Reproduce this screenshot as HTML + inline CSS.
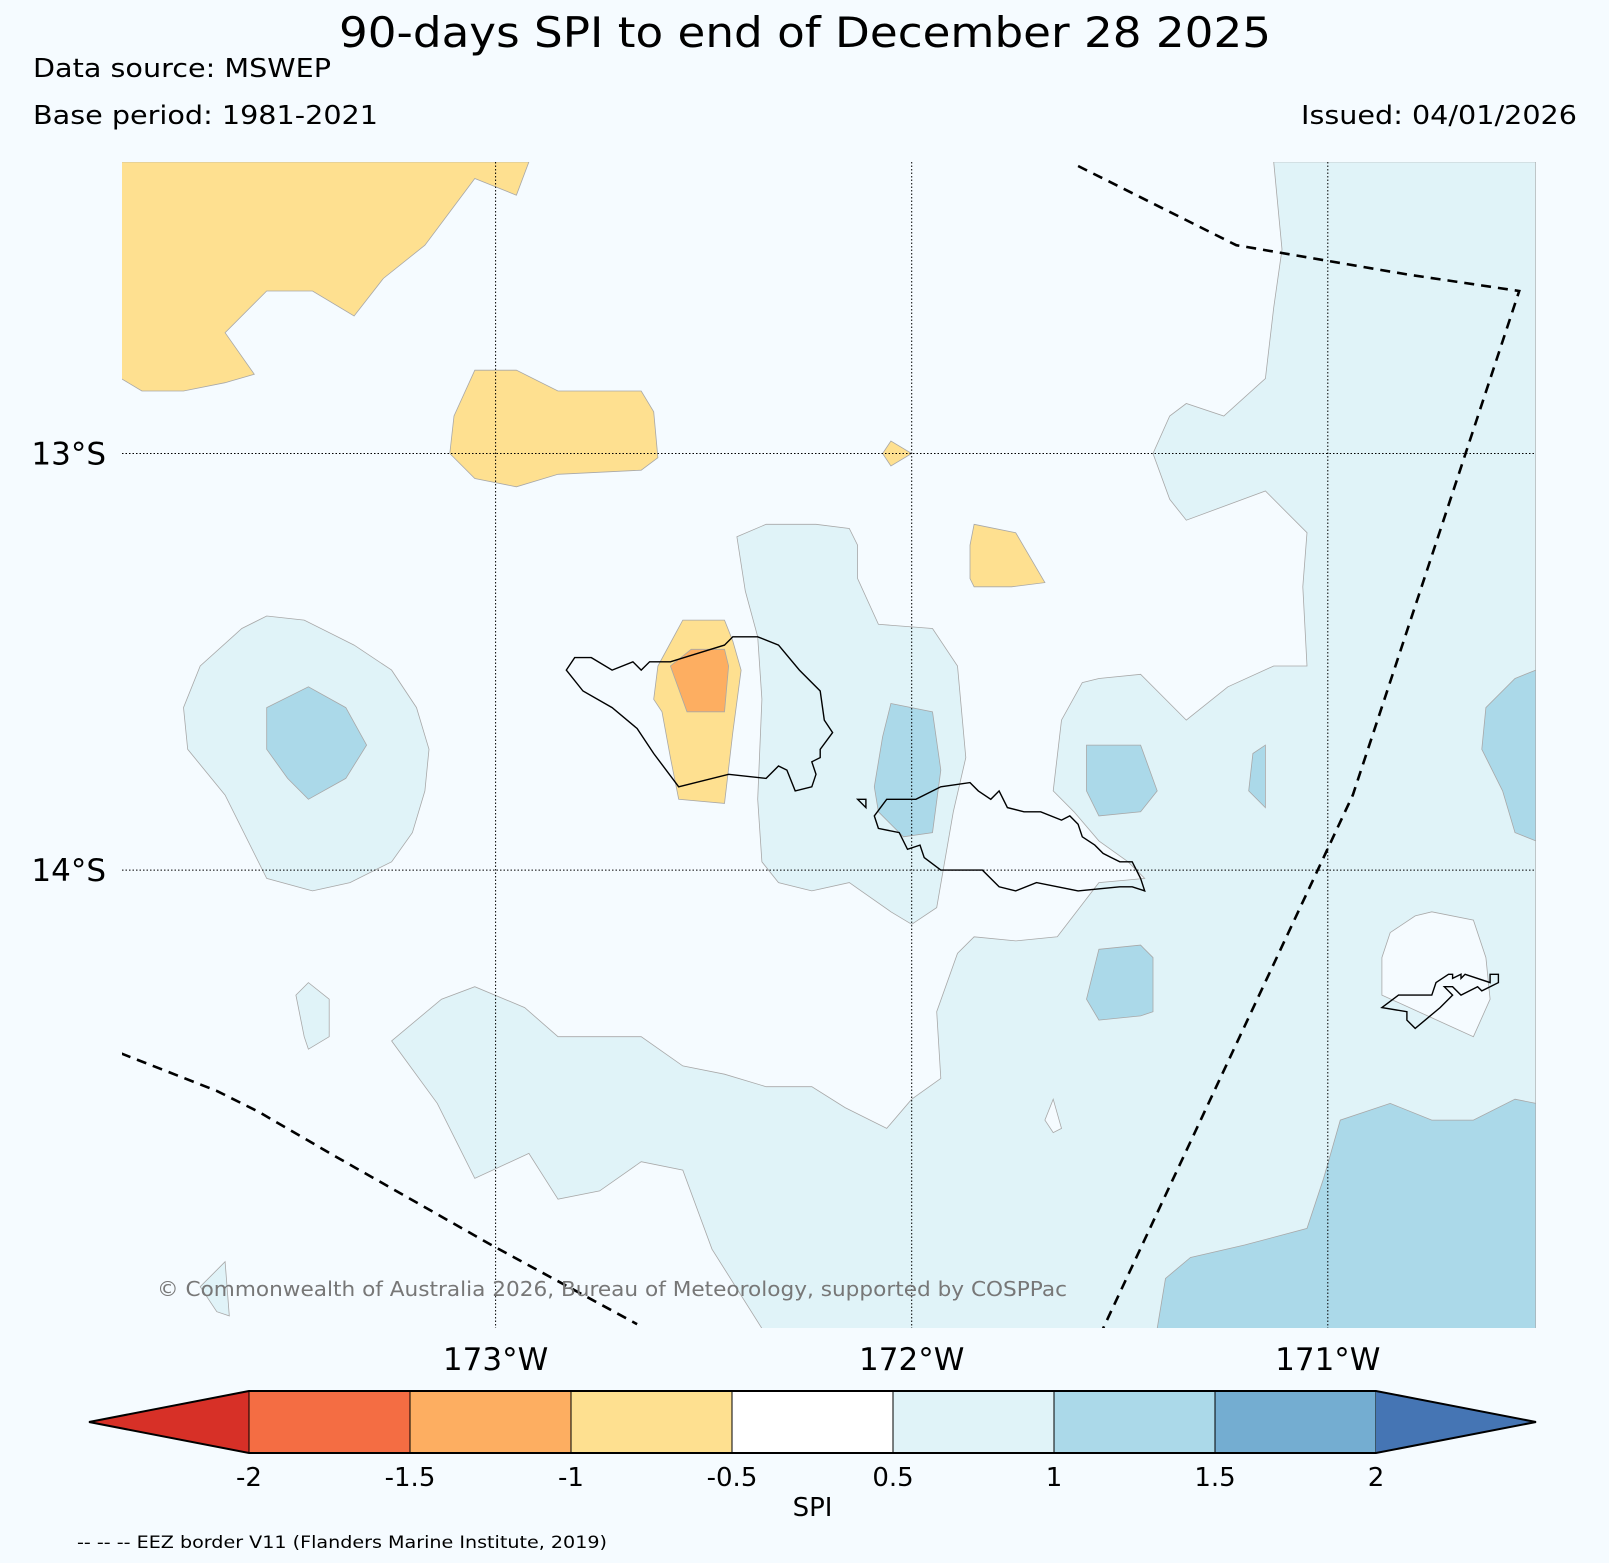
<!DOCTYPE html>
<html><head><meta charset="utf-8"><style>
html,body{margin:0;padding:0;background:#f5fbff;}
svg{display:block;font-family:"DejaVu Sans","Liberation Sans",sans-serif;}
</style></head><body>
<svg id="chart" width="1609" height="1563" viewBox="0 0 1609 1563" xmlns="http://www.w3.org/2000/svg">
<rect width="1609" height="1563" fill="#f5fbff"/>
<text x="805" y="47" font-size="42" text-anchor="middle" textLength="932" lengthAdjust="spacingAndGlyphs">90-days SPI to end of December 28 2025</text>
<text x="33" y="77" font-size="26" textLength="298" lengthAdjust="spacingAndGlyphs">Data source: MSWEP</text>
<text x="33" y="124" font-size="26" textLength="345" lengthAdjust="spacingAndGlyphs">Base period: 1981-2021</text>
<text x="1577" y="124" font-size="26" text-anchor="end" textLength="276" lengthAdjust="spacingAndGlyphs">Issued: 04/01/2026</text>
<defs><clipPath id="mapclip"><rect x="122" y="162" width="1414" height="1166"/></clipPath></defs>
<g id="map" clip-path="url(#mapclip)"></g>
<g id="axes"></g>
<text x="157" y="1296" font-size="20" fill="#777" textLength="910" lengthAdjust="spacingAndGlyphs">© Commonwealth of Australia 2026, Bureau of Meteorology, supported by COSPPac</text>
<g id="cbar"></g>
<text x="77" y="1548" font-size="17" textLength="530" lengthAdjust="spacingAndGlyphs">-- -- -- EEZ border V11 (Flanders Marine Institute, 2019)</text>
</svg>
<script>
const NS="http://www.w3.org/2000/svg";
const lonTicks=[-173,-172,-171];
const latTicks=[-13,-14];
const lonTickLabels=["173°W","172°W","171°W"];
const latTickLabels=["13°S","14°S"];
const cbarLevels=[-2,-1.5,-1,-0.5,0.5,1,1.5,2];
const cbarLabels=["-2","-1.5","-1","-0.5","0.5","1","1.5","2"];
const cbarColors=["#d73027","#f46d43","#fdae61","#fee090","#ffffff","#e0f3f8","#abd9e9","#74add1","#4575b4"];
const levelFill={"-1.5":"#fdae61","-1":"#fee090","0":"#f5fbff","1":"#e0f3f8","1.5":"#abd9e9"};
const lightEast=[[-171.13,-12.30],[-170.50,-12.30],[-170.50,-15.10],[-172.36,-15.10],[-172.48,-14.91],[-172.55,-14.72],[-172.65,-14.70],[-172.75,-14.77],[-172.85,-14.79],[-172.92,-14.68],[-173.05,-14.74],[-173.14,-14.56],[-173.25,-14.41],[-173.13,-14.31],[-173.05,-14.28],[-172.93,-14.33],[-172.85,-14.40],[-172.65,-14.40],[-172.55,-14.47],[-172.45,-14.49],[-172.35,-14.52],[-172.24,-14.52],[-172.16,-14.57],[-172.06,-14.62],[-172.00,-14.55],[-171.93,-14.50],[-171.94,-14.34],[-171.89,-14.20],[-171.85,-14.16],[-171.75,-14.17],[-171.65,-14.16],[-171.55,-14.03],[-171.44,-14.02],[-171.48,-13.98],[-171.55,-13.93],[-171.61,-13.86],[-171.66,-13.81],[-171.64,-13.64],[-171.59,-13.55],[-171.55,-13.54],[-171.45,-13.53],[-171.34,-13.64],[-171.24,-13.56],[-171.13,-13.51],[-171.05,-13.51],[-171.06,-13.32],[-171.05,-13.19],[-171.15,-13.09],[-171.34,-13.16],[-171.38,-13.11],[-171.42,-13.00],[-171.38,-12.91],[-171.34,-12.88],[-171.25,-12.91],[-171.15,-12.82],[-171.13,-12.65],[-171.11,-12.51]];
const lightWest=[[-173.55,-13.39],[-173.46,-13.40],[-173.34,-13.46],[-173.25,-13.52],[-173.19,-13.61],[-173.16,-13.71],[-173.17,-13.81],[-173.20,-13.91],[-173.25,-13.98],[-173.35,-14.03],[-173.44,-14.05],[-173.55,-14.02],[-173.65,-13.82],[-173.74,-13.71],[-173.75,-13.61],[-173.71,-13.51],[-173.61,-13.42]];
const lightCentral=[[-172.42,-13.20],[-172.35,-13.17],[-172.23,-13.17],[-172.15,-13.18],[-172.13,-13.22],[-172.13,-13.30],[-172.08,-13.41],[-171.95,-13.42],[-171.89,-13.51],[-171.87,-13.73],[-171.90,-13.86],[-171.94,-14.09],[-172.00,-14.13],[-172.05,-14.10],[-172.15,-14.03],[-172.24,-14.05],[-172.32,-14.03],[-172.36,-13.98],[-172.37,-13.83],[-172.36,-13.59],[-172.37,-13.44],[-172.40,-13.33]];
const lightSmall1=[[-173.48,-14.30],[-173.45,-14.27],[-173.40,-14.31],[-173.40,-14.40],[-173.45,-14.43],[-173.46,-14.40]];
const lightSmall2=[[-173.71,-15.00],[-173.65,-14.94],[-173.64,-15.07],[-173.67,-15.06]];
const whiteTutuila=[[-170.87,-14.30],[-170.87,-14.21],[-170.85,-14.15],[-170.79,-14.11],[-170.75,-14.10],[-170.65,-14.12],[-170.62,-14.21],[-170.61,-14.31],[-170.65,-14.40]];
const whiteSmall=[[-171.66,-14.55],[-171.64,-14.62],[-171.66,-14.63],[-171.68,-14.60]];
const medWest=[[-173.55,-13.61],[-173.45,-13.56],[-173.36,-13.61],[-173.31,-13.70],[-173.36,-13.78],[-173.45,-13.83],[-173.50,-13.78],[-173.55,-13.71]];
const medCentral=[[-172.05,-13.60],[-171.95,-13.62],[-171.93,-13.76],[-171.95,-13.91],[-172.02,-13.92],[-172.08,-13.86],[-172.09,-13.80],[-172.07,-13.68]];
const medA=[[-171.58,-13.70],[-171.45,-13.70],[-171.41,-13.81],[-171.45,-13.86],[-171.55,-13.87],[-171.58,-13.81]];
const medB=[[-171.18,-13.72],[-171.15,-13.70],[-171.15,-13.85],[-171.19,-13.81]];
const medC=[[-170.55,-13.54],[-170.50,-13.52],[-170.50,-13.93],[-170.55,-13.91],[-170.58,-13.81],[-170.63,-13.71],[-170.62,-13.61]];
const medD=[[-171.55,-14.19],[-171.45,-14.18],[-171.42,-14.21],[-171.42,-14.34],[-171.45,-14.35],[-171.55,-14.36],[-171.58,-14.31]];
const medE=[[-171.41,-15.10],[-171.39,-14.98],[-171.33,-14.93],[-171.20,-14.90],[-171.05,-14.86],[-171.01,-14.74],[-170.97,-14.60],[-170.85,-14.56],[-170.75,-14.60],[-170.65,-14.60],[-170.55,-14.55],[-170.50,-14.56],[-170.50,-15.10]];
const yellowNW=[[-173.90,-12.30],[-172.92,-12.30],[-172.95,-12.38],[-173.05,-12.34],[-173.17,-12.50],[-173.27,-12.58],[-173.34,-12.67],[-173.44,-12.61],[-173.55,-12.61],[-173.65,-12.71],[-173.58,-12.81],[-173.65,-12.83],[-173.75,-12.85],[-173.85,-12.85],[-173.90,-12.82]];
const yellow1=[[-173.05,-12.80],[-172.95,-12.80],[-172.85,-12.85],[-172.65,-12.85],[-172.62,-12.90],[-172.61,-13.01],[-172.65,-13.04],[-172.85,-13.05],[-172.95,-13.08],[-173.05,-13.06],[-173.11,-13.00],[-173.10,-12.91]];
const yellow2=[[-172.07,-13.00],[-172.05,-12.97],[-172.00,-13.00],[-172.05,-13.03]];
const yellow3=[[-171.85,-13.17],[-171.75,-13.19],[-171.68,-13.31],[-171.76,-13.32],[-171.85,-13.32],[-171.86,-13.30],[-171.86,-13.22]];
const yellow4=[[-172.55,-13.40],[-172.45,-13.40],[-172.43,-13.45],[-172.41,-13.52],[-172.43,-13.67],[-172.45,-13.84],[-172.56,-13.83],[-172.58,-13.73],[-172.60,-13.62],[-172.62,-13.59],[-172.61,-13.51]];
const orange1=[[-172.53,-13.47],[-172.45,-13.47],[-172.44,-13.51],[-172.45,-13.62],[-172.54,-13.62],[-172.58,-13.51]];
const contours=[["1",lightEast,"spi-1-east"],["1",lightWest,"spi-1-west"],["1",lightCentral,"spi-1-central"],["1",lightSmall1,"spi-1-small-a"],["1",lightSmall2,"spi-1-small-b"],["0",whiteTutuila,"spi-0-tutuila"],["0",whiteSmall,"spi-0-small"],["1.5",medWest,"spi-15-west"],["1.5",medCentral,"spi-15-central"],["1.5",medA,"spi-15-a"],["1.5",medB,"spi-15-b"],["1.5",medC,"spi-15-c"],["1.5",medD,"spi-15-d"],["1.5",medE,"spi-15-southeast"],["-1",yellowNW,"spi-neg1-northwest"],["-1",yellow1,"spi-neg1-north"],["-1",yellow2,"spi-neg1-small"],["-1",yellow3,"spi-neg1-east"],["-1",yellow4,"spi-neg1-savaii"],["-1.5",orange1,"spi-neg15-savaii"]];
const savaii=[[-172.83,-13.52],[-172.81,-13.49],[-172.77,-13.49],[-172.72,-13.52],[-172.67,-13.50],[-172.65,-13.52],[-172.63,-13.50],[-172.58,-13.50],[-172.45,-13.46],[-172.43,-13.44],[-172.37,-13.44],[-172.32,-13.46],[-172.27,-13.52],[-172.22,-13.57],[-172.21,-13.64],[-172.19,-13.67],[-172.22,-13.71],[-172.22,-13.73],[-172.24,-13.74],[-172.23,-13.77],[-172.24,-13.80],[-172.28,-13.81],[-172.30,-13.76],[-172.32,-13.75],[-172.35,-13.78],[-172.44,-13.77],[-172.56,-13.80],[-172.62,-13.72],[-172.66,-13.66],[-172.72,-13.61],[-172.79,-13.57]];
const upolu=[[-172.09,-13.87],[-172.06,-13.83],[-171.99,-13.83],[-171.93,-13.80],[-171.86,-13.79],[-171.84,-13.81],[-171.81,-13.83],[-171.79,-13.81],[-171.77,-13.85],[-171.73,-13.86],[-171.69,-13.86],[-171.64,-13.88],[-171.62,-13.87],[-171.60,-13.89],[-171.59,-13.92],[-171.56,-13.94],[-171.54,-13.96],[-171.52,-13.97],[-171.50,-13.98],[-171.47,-13.98],[-171.45,-14.02],[-171.44,-14.05],[-171.47,-14.04],[-171.50,-14.04],[-171.60,-14.05],[-171.70,-14.03],[-171.75,-14.05],[-171.79,-14.04],[-171.83,-14.00],[-171.93,-14.00],[-171.97,-13.97],[-171.98,-13.94],[-172.01,-13.95],[-172.03,-13.91],[-172.08,-13.90]];
const tutuila=[[-170.87,-14.33],[-170.83,-14.30],[-170.75,-14.30],[-170.74,-14.27],[-170.71,-14.25],[-170.70,-14.25],[-170.70,-14.26],[-170.68,-14.25],[-170.68,-14.26],[-170.67,-14.25],[-170.61,-14.27],[-170.61,-14.25],[-170.59,-14.25],[-170.59,-14.27],[-170.61,-14.28],[-170.63,-14.29],[-170.64,-14.28],[-170.68,-14.30],[-170.70,-14.28],[-170.72,-14.28],[-170.70,-14.30],[-170.73,-14.33],[-170.79,-14.38],[-170.81,-14.36],[-170.81,-14.34]];
const islet=[[-172.13,-13.83],[-172.11,-13.85],[-172.11,-13.83]];
const eezEast=[[-171.60,-12.31],[-171.22,-12.50],[-170.81,-12.57],[-170.54,-12.61],[-170.94,-13.82],[-171.54,-15.10]];
const eezWest=[[-173.90,-14.44],[-173.67,-14.53],[-173.57,-14.58],[-173.38,-14.69],[-173.01,-14.90],[-172.66,-15.09]];

const X0=495.6,KX=416.1,Y0=453.5,KY=416.6;
function px(lon){return X0+(lon+173)*KX;}
function py(lat){return Y0+(-13-lat)*KY;}
function pts(a){return a.map(p=>px(p[0]).toFixed(1)+","+py(p[1]).toFixed(1)).join(" ");}
const map=document.getElementById('map');
contours.forEach(c=>{
  const e=document.createElementNS(NS,'polygon');
  e.setAttribute('points',pts(c[1]));
  e.setAttribute('fill',levelFill[c[0]]);
  e.setAttribute('stroke','#a8a8a8');e.setAttribute('stroke-width','0.8');
  
  
  map.appendChild(e);
});
[[savaii,'savaii-coastline'],[upolu,'upolu-coastline'],[tutuila,'tutuila-coastline'],[islet,'islet-coastline']].forEach(c=>{
  const e=document.createElementNS(NS,'polygon');
  e.setAttribute('points',pts(c[0]));
  e.setAttribute('fill','none');e.setAttribute('stroke','#000');e.setAttribute('stroke-width','1.4');
  
  
  map.appendChild(e);
});
[[eezEast,'eez-border-east'],[eezWest,'eez-border-west']].forEach(c=>{
  const e=document.createElementNS(NS,'polyline');
  e.setAttribute('points',pts(c[0]));
  e.setAttribute('fill','none');e.setAttribute('stroke','#000');e.setAttribute('stroke-width','2.6');e.setAttribute('stroke-dasharray','10,7');
  
  
  map.appendChild(e);
});
const ax=document.getElementById('axes');
lonTicks.forEach((t,i)=>{
  const l=document.createElementNS(NS,'line');
  l.setAttribute('x1',px(t));l.setAttribute('x2',px(t));l.setAttribute('y1',162);l.setAttribute('y2',1328);
  l.setAttribute('stroke','#000');l.setAttribute('stroke-width','1');l.setAttribute('stroke-dasharray','1.5,2');
  
  
  ax.appendChild(l);
  const tx=document.createElementNS(NS,'text');
  tx.setAttribute('x',px(t));tx.setAttribute('y',1370);tx.setAttribute('font-size','31');tx.setAttribute('text-anchor','middle');
  tx.textContent=lonTickLabels[i];
  
  
  ax.appendChild(tx);
});
latTicks.forEach((t,i)=>{
  const l=document.createElementNS(NS,'line');
  l.setAttribute('y1',py(t));l.setAttribute('y2',py(t));l.setAttribute('x1',122);l.setAttribute('x2',1536);
  l.setAttribute('stroke','#000');l.setAttribute('stroke-width','1');l.setAttribute('stroke-dasharray','1.5,2');
  
  
  ax.appendChild(l);
  const tx=document.createElementNS(NS,'text');
  tx.setAttribute('x',106);tx.setAttribute('y',py(t)+11);tx.setAttribute('font-size','31');tx.setAttribute('text-anchor','end');
  tx.textContent=latTickLabels[i];
  
  
  ax.appendChild(tx);
});
const cb=document.getElementById('cbar');
const CBX0=249,CBX1=1376,CBY0=1391,CBY1=1453,TIPL=89,TIPR=1536;
const nBins=cbarLevels.length-1;
function cx(i){return CBX0+i/nBins*(CBX1-CBX0);}
const cy=(CBY0+CBY1)/2;
let t1=document.createElementNS(NS,'polygon');
t1.setAttribute('points',`${CBX0},${CBY0} ${TIPL},${cy} ${CBX0},${CBY1}`);
t1.setAttribute('fill',cbarColors[0]);


cb.appendChild(t1);
for(let i=0;i<nBins;i++){
  const r=document.createElementNS(NS,'rect');
  r.setAttribute('x',cx(i));r.setAttribute('y',CBY0);
  r.setAttribute('width',cx(i+1)-cx(i));r.setAttribute('height',CBY1-CBY0);
  r.setAttribute('fill',cbarColors[i+1]);r.setAttribute('stroke','#000');r.setAttribute('stroke-width','1');
  
  
  cb.appendChild(r);
}
let t2=document.createElementNS(NS,'polygon');
t2.setAttribute('points',`${CBX1},${CBY0} ${TIPR},${cy} ${CBX1},${CBY1}`);
t2.setAttribute('fill',cbarColors[cbarColors.length-1]);


cb.appendChild(t2);
let ol=document.createElementNS(NS,'polygon');
ol.setAttribute('points',`${CBX0},${CBY0} ${TIPL},${cy} ${CBX0},${CBY1} ${CBX1},${CBY1} ${TIPR},${cy} ${CBX1},${CBY0}`);
ol.setAttribute('fill','none');ol.setAttribute('stroke','#000');ol.setAttribute('stroke-width','2');


cb.appendChild(ol);
cbarLevels.forEach((v,i)=>{
  const tx=document.createElementNS(NS,'text');
  tx.setAttribute('x',cx(i));tx.setAttribute('y',1486);tx.setAttribute('font-size','26');tx.setAttribute('text-anchor','middle');
  tx.textContent=cbarLabels[i];
  
  
  cb.appendChild(tx);
});
const st=document.createElementNS(NS,'text');
st.setAttribute('x',(CBX0+CBX1)/2);st.setAttribute('y',1516);st.setAttribute('font-size','26');st.setAttribute('text-anchor','middle');
st.textContent='SPI';


cb.appendChild(st);
</script>
</body></html>
